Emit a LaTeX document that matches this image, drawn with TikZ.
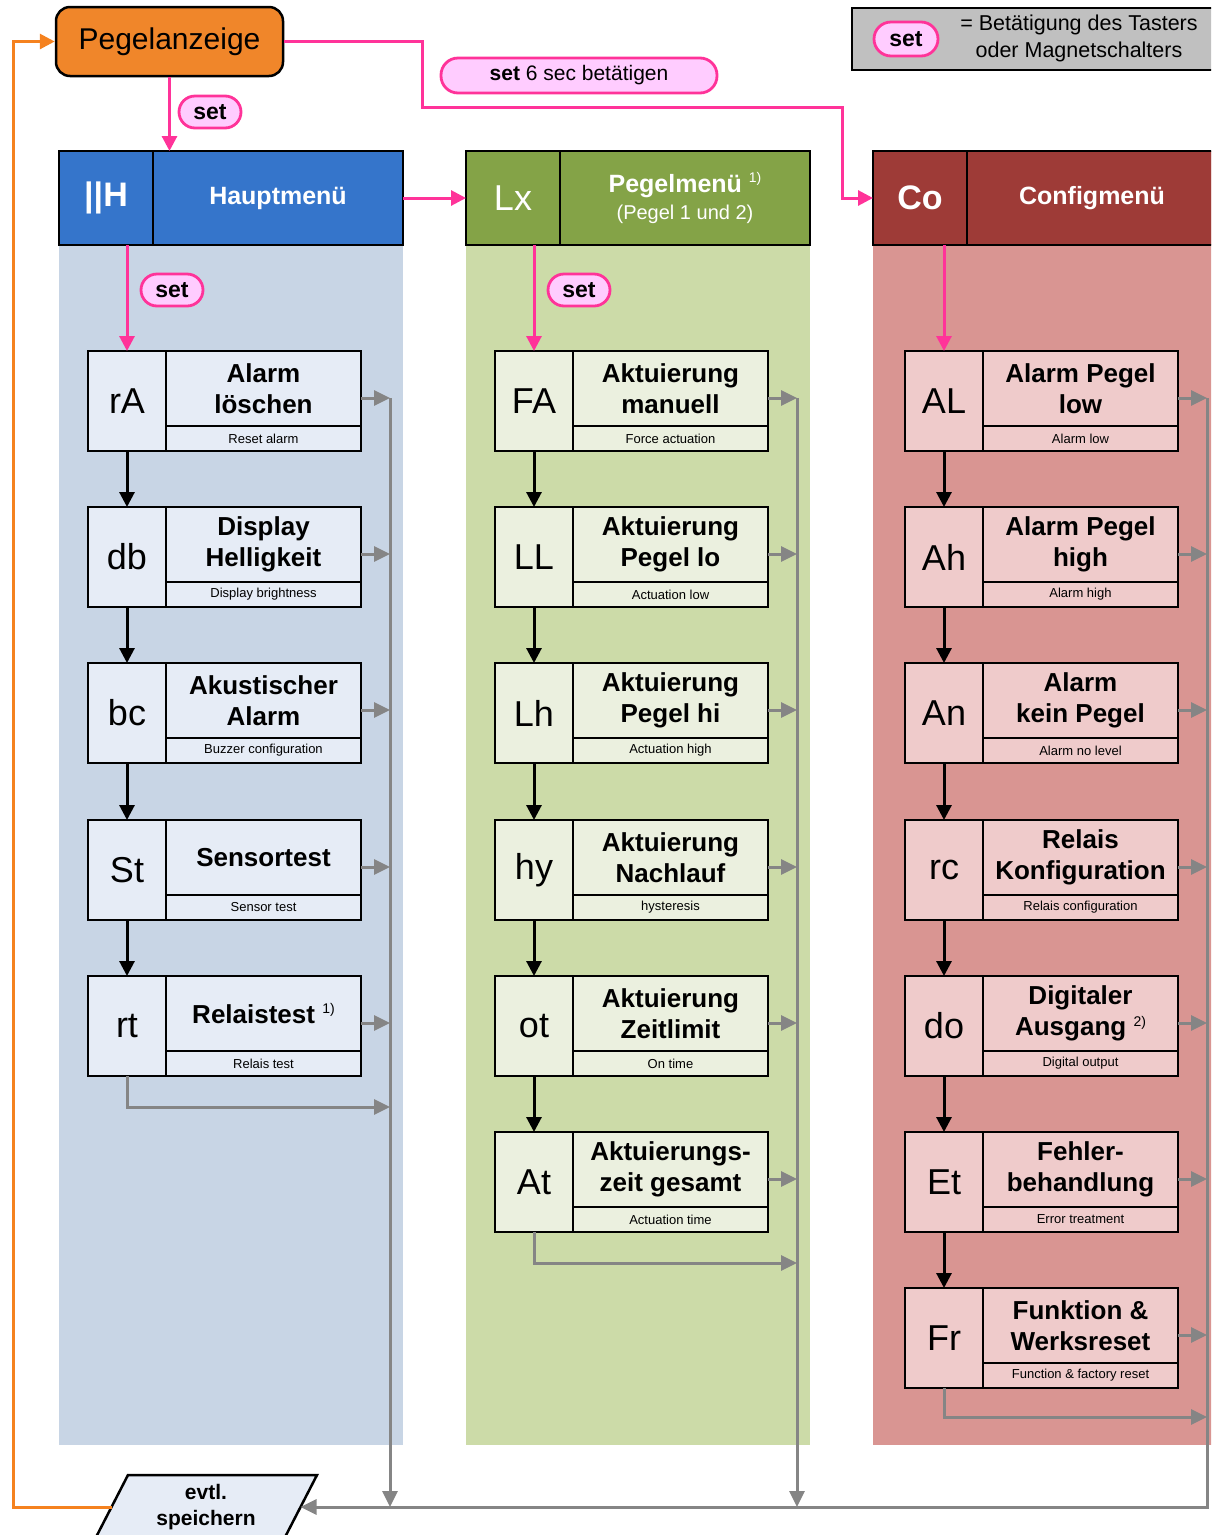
\documentclass[tikz,border=0pt]{standalone}
\usepackage{fontspec}
\setmainfont{Liberation Sans}
\usetikzlibrary{arrows.meta,calc}
\definecolor{orangeP}{HTML}{F0862A}
\definecolor{orangeL}{HTML}{F5821F}
\definecolor{blueH}{HTML}{3575CB}
\definecolor{blueBG}{HTML}{C8D5E5}
\definecolor{blueIt}{HTML}{E6ECF6}
\definecolor{greenH}{HTML}{84A347}
\definecolor{greenBG}{HTML}{CCDBA8}
\definecolor{greenIt}{HTML}{EBF0DF}
\definecolor{redH}{HTML}{9E3B37}
\definecolor{redBG}{HTML}{D99592}
\definecolor{redIt}{HTML}{EFCBCB}
\definecolor{pinkL}{HTML}{FF3399}
\definecolor{pinkF}{HTML}{FFCCFF}
\definecolor{grayL}{HTML}{858585}
\definecolor{legendF}{HTML}{C0C0C0}
\newcommand\supr[1]{\raisebox{9.5pt}{\fontsize{14}{14}\selectfont\mdseries #1}}
\tikzset{
 bx/.style={draw=black, line width=2.5pt, inner sep=0pt, outer sep=0pt},
 codecell/.style={bx, minimum width=78pt, minimum height=100pt, font=\fontsize{36}{36}\selectfont},
 titlecell/.style={bx, minimum width=195pt, minimum height=75pt, align=center, font=\fontsize{26}{31}\selectfont\bfseries},
 subcell/.style={bx, minimum width=195pt, minimum height=25pt, font=\fontsize{13}{13}\selectfont},
 pill/.style={draw=pinkL, fill=pinkF, line width=2.8pt, rounded corners=16pt, minimum width=62pt, minimum height=32pt, inner sep=0pt, font=\fontsize{23}{23}\selectfont\bfseries},
 pinkarrow/.style={draw=pinkL, line width=3pt, -{Triangle[length=15pt,width=15pt]}},
 grayarrow/.style={draw=grayL, line width=3pt, -{Triangle[length=16pt,width=15pt]}},
 orangearrow/.style={draw=orangeL, line width=3pt, -{Triangle[length=15pt,width=15pt]}},
 blackarrow/.style={draw=black, line width=3pt, -{Triangle[length=15pt,width=15pt]}},
 hdrcode/.style={bx, minimum width=94pt, minimum height=94pt, text=white, font=\fontsize{34}{34}\selectfont\bfseries},
 hdrtitle/.style={bx, minimum width=250pt, minimum height=94pt, text=white, align=center, font=\fontsize{25}{30}\selectfont\bfseries},
}
% #1 name, #2 x-left, #3 y-top, #4 code, #5 title, #6 subtitle, #7 fill
\newcommand\menuitem[7]{%
 \node[codecell, fill=#7, anchor=north west] (#1c) at (#2,#3) {#4};
 \node[titlecell, fill=#7, anchor=north west] (#1t) at ({#2+78},#3) {#5};
 \node[subcell, fill=#7, anchor=north west] (#1s) at ({#2+78},{#3+75}) {#6};
 \coordinate (#1) at ({#2+273},{#3+47});
}
\begin{document}
\begin{tikzpicture}[x=1pt,y=-1pt]
\useasboundingbox (0,0) rectangle (1211,1535);
\clip (0,0) rectangle (1211,1535);
% column backgrounds
\fill[blueBG] (59,151) rectangle (403,1445);
\fill[greenBG] (466,151) rectangle (810,1445);
\fill[redBG] (873,151) rectangle (1220,1445);
% legend
\node[draw=black, line width=2pt, fill=legendF, minimum width=369pt, minimum height=62pt, anchor=north west, inner sep=0pt] (leg) at (851,7) {};
\node[pill, minimum width=64pt, minimum height=34pt, rounded corners=17pt] (legset) at (906,39) {set};
\node[align=center, font=\fontsize{21.5}{27}\selectfont] (legtxt) at (1079,38) {= Betätigung des Tasters\\oder Magnetschalters};
% Pegelanzeige
\node[draw=black, line width=2.5pt, fill=orangeP, rounded corners=14pt, minimum width=227pt, minimum height=69pt, inner sep=0pt, font=\fontsize{30}{30}\selectfont] (peg) at (169.5,41.5) {Pegelanzeige};
\node[pill, minimum width=276pt, minimum height=35pt, rounded corners=17pt, font=\fontsize{21}{21}\selectfont\mdseries] (set6) at (579,75.5) {\textbf{set} 6 sec betätigen};
% headers
\node[hdrcode, fill=blueH, anchor=north west] (HHc) at (59,151) {||H};
\node[hdrtitle, fill=blueH, anchor=north west] (HHt) at (153,151) {Hauptmenü};
\node[hdrcode, fill=greenH, anchor=north west, font=\fontsize{36}{36}\selectfont] (LXc) at (466,151) {Lx};
\node[hdrtitle, fill=greenH, anchor=north west] (LXt) at (560,151) {Pegelmenü \supr{1)}\\[-3pt]{\fontsize{20}{22}\selectfont\mdseries (Pegel 1 und 2)}};
\node[hdrcode, fill=redH, anchor=north west] (COc) at (873,151) {Co};
\node[hdrtitle, fill=redH, anchor=north west] (COt) at (967,151) {Configmenü};
% left column items
\menuitem{rA}{88}{351}{rA}{Alarm\\löschen}{Reset alarm}{blueIt}
\menuitem{db}{88}{507}{db}{Display\\Helligkeit}{Display brightness}{blueIt}
\menuitem{bc}{88}{663}{bc}{Akustischer\\Alarm}{Buzzer configuration}{blueIt}
\menuitem{St}{88}{820}{St}{Sensortest}{Sensor test}{blueIt}
\menuitem{rt}{88}{976}{rt}{Relaistest \supr{1)}}{Relais test}{blueIt}
% middle column items
\menuitem{FA}{495}{351}{FA}{Aktuierung\\manuell}{Force actuation}{greenIt}
\menuitem{LL}{495}{507}{LL}{Aktuierung\\Pegel lo}{Actuation low}{greenIt}
\menuitem{Lh}{495}{663}{Lh}{Aktuierung\\Pegel hi}{Actuation high}{greenIt}
\menuitem{hy}{495}{820}{hy}{Aktuierung\\Nachlauf}{hysteresis}{greenIt}
\menuitem{ot}{495}{976}{ot}{Aktuierung\\Zeitlimit}{On time}{greenIt}
\menuitem{At}{495}{1132}{At}{Aktuierungs-\\zeit gesamt}{Actuation time}{greenIt}
% right column items
\menuitem{AL}{905}{351}{AL}{Alarm Pegel\\low}{Alarm low}{redIt}
\menuitem{Ah}{905}{507}{Ah}{Alarm Pegel\\high}{Alarm high}{redIt}
\menuitem{An}{905}{663}{An}{Alarm\\kein Pegel}{Alarm no level}{redIt}
\menuitem{rc}{905}{820}{rc}{Relais\\Konfiguration}{Relais configuration}{redIt}
\menuitem{do}{905}{976}{do}{Digitaler\\Ausgang \supr{2)}}{Digital output}{redIt}
\menuitem{Et}{905}{1132}{Et}{Fehler-\\behandlung}{Error treatment}{redIt}
\menuitem{Fr}{905}{1288}{Fr}{Funktion \&\\Werksreset}{Function \& factory reset}{redIt}
% save parallelogram
\draw[line width=2.5pt, fill=blueIt] (128,1475) -- (317,1475) -- (282,1543) -- (93,1543) -- cycle;
\node[font=\fontsize{21}{26}\selectfont\bfseries, align=center] (save) at (206,1507) {evtl.\\speichern};
\coordinate (saveL) at (111.5,1507);
\coordinate (saveR) at (300.5,1507);
% black arrows
\foreach \a/\b in {rA/db, db/bc, bc/St, St/rt, FA/LL, LL/Lh, Lh/hy, hy/ot, ot/At, AL/Ah, Ah/An, An/rc, rc/do, do/Et, Et/Fr}
  \draw[blackarrow] (\a c.south) -- (\b c.north);
% gray lines
\coordinate (gl) at (390,398);
\coordinate (glb) at (390,1507);
\coordinate (gll) at (390,1107);
\coordinate (gm) at (797,398);
\coordinate (gmb) at (797,1507);
\coordinate (gml) at (797,1263);
\coordinate (gr) at (1207,398);
\coordinate (grb) at (1207,1507);
\coordinate (grl) at (1207,1417);
\draw[grayarrow] (gr) -- (grb) -- (saveR);
\draw[grayarrow] (gl) -- (glb);
\draw[grayarrow] (gm) -- (gmb);
\foreach \n in {rA, db, bc, St, rt} \draw[grayarrow] (\n) -- (\n -| gl);
\foreach \n in {FA, LL, Lh, hy, ot, At} \draw[grayarrow] (\n) -- (\n -| gm);
\foreach \n in {AL, Ah, An, rc, do, Et, Fr} \draw[grayarrow] (\n) -- (\n -| gr);
\draw[grayarrow] (rtc.south) |- (gll);
\draw[grayarrow] (Atc.south) |- (gml);
\draw[grayarrow] (Frc.south) |- (grl);
% orange return
\coordinate (oc) at (13,1507);
\draw[orangearrow] (saveL) -- (oc) |- (peg.west);
% pink connectors
\coordinate (pc1) at (422,107);
\coordinate (pc2) at (842,107);
\draw[pinkarrow] (peg.east) -| (pc1) -- (pc2) |- (COc.west);
\draw[pinkarrow] (peg.south) -- (peg.south |- HHt.north);
\draw[pinkarrow] (HHt.east) -- (LXc.west);
\draw[pinkarrow] (rAc.north |- HHc.south) -- (rAc.north);
\draw[pinkarrow] (FAc.north |- LXc.south) -- (FAc.north);
\draw[pinkarrow] (ALc.north |- COc.south) -- (ALc.north);
\node[pill] (set1) at (210,112) {set};
\node[pill] (set2) at (172,290) {set};
\node[pill] (set3) at (579,290) {set};
\end{tikzpicture}
\end{document}
